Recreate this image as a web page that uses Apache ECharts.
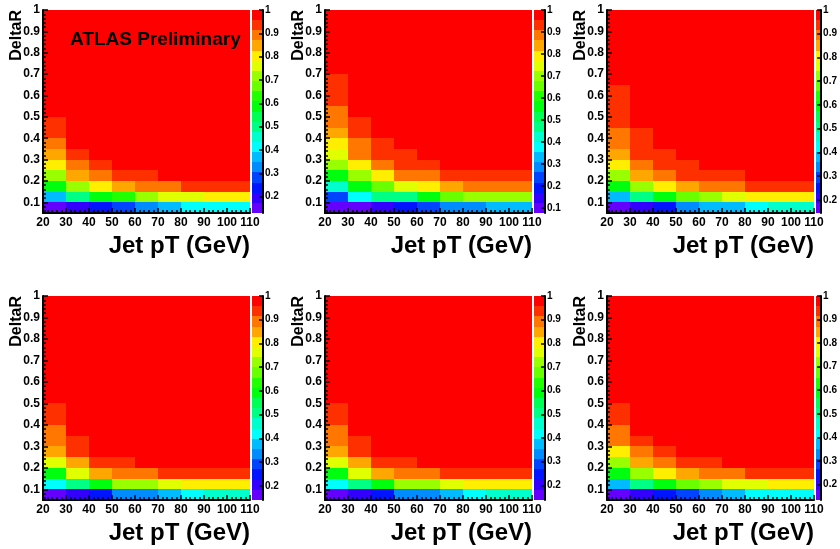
<!DOCTYPE html>
<html><head><meta charset="utf-8">
<script src="https://cdn.jsdelivr.net/npm/echarts@6/dist/echarts.min.js"></script>
<style>html,body{margin:0;padding:0;background:#fff}#c{width:840px;height:549px}</style>
</head><body><div id="c"></div>
<script>
// ---- bin edges and tick labels ----
const ptEdges = [20, 30, 40, 50, 60, 70, 80, 90, 100, 110];
const drEdges = [0.05, 0.10, 0.15, 0.20, 0.25, 0.30, 0.35, 0.40, 0.45, 0.50, 0.55, 0.60, 0.65, 0.70, 0.75, 0.80, 0.85, 0.90, 0.95, 1.00];
const xTickLabels = [20, 30, 40, 50, 60, 70, 80, 90, 100, 110];
const yTickLabels = [0.1, 0.2, 0.3, 0.4, 0.5, 0.6, 0.7, 0.8, 0.9, 1.0];
const zTickLabels = [0.1, 0.2, 0.3, 0.4, 0.5, 0.6, 0.7, 0.8, 0.9, 1.0];
const xTitle = 'Jet pT (GeV)';
const yTitle = 'DeltaR';
const stampText = 'ATLAS Preliminary';
const zMax = 1;

// ---- efficiency maps: rows from DeltaR 0.05-0.10 (first) to 0.95-1.00 (last), 9 pT bins each ----
const eff1 = [
  [0.130, 0.195, 0.239, 0.282, 0.326, 0.369, 0.405, 0.418, 0.428],
  [0.369, 0.500, 0.587, 0.630, 0.717, 0.755, 0.768, 0.800, 0.812],
  [0.587, 0.717, 0.804, 0.848, 0.885, 0.898, 0.930, 0.938, 0.942],
  [0.717, 0.848, 0.891, 0.930, 0.945, 0.965, 0.970, 0.975, 0.978],
  [0.804, 0.891, 0.935, 0.975, 0.980, 0.985, 0.985, 0.990, 0.990],
  [0.848, 0.935, 0.975, 0.985, 0.990, 0.990, 0.990, 0.990, 0.995],
  [0.891, 0.970, 0.985, 0.990, 0.990, 0.995, 0.995, 0.995, 0.995],
  [0.930, 0.980, 0.990, 0.995, 0.995, 0.995, 0.995, 0.995, 0.995],
  [0.945, 0.985, 0.990, 0.995, 0.995, 0.995, 0.995, 0.995, 0.995],
  [0.970, 0.990, 0.995, 0.995, 1, 1, 1, 1, 1],
  [0.980, 0.990, 0.995, 1, 1, 1, 1, 1, 1],
  [0.985, 0.995, 1, 1, 1, 1, 1, 1, 1],
  [0.990, 0.995, 1, 1, 1, 1, 1, 1, 1],
  [0.990, 1, 1, 1, 1, 1, 1, 1, 1],
  [0.995, 1, 1, 1, 1, 1, 1, 1, 1],
  [0.995, 1, 1, 1, 1, 1, 1, 1, 1],
  [1, 1, 1, 1, 1, 1, 1, 1, 1],
  [1, 1, 1, 1, 1, 1, 1, 1, 1],
  [1, 1, 1, 1, 1, 1, 1, 1, 1]
];
const eff2 = [
  [0.077, 0.100, 0.146, 0.192, 0.238, 0.280, 0.292, 0.328, 0.336],
  [0.238, 0.377, 0.465, 0.472, 0.562, 0.654, 0.695, 0.700, 0.705],
  [0.423, 0.562, 0.654, 0.746, 0.792, 0.839, 0.880, 0.885, 0.890],
  [0.562, 0.700, 0.792, 0.885, 0.890, 0.925, 0.931, 0.935, 0.940],
  [0.700, 0.792, 0.885, 0.931, 0.935, 0.965, 0.970, 0.970, 0.975],
  [0.746, 0.885, 0.931, 0.935, 0.965, 0.980, 0.980, 0.985, 0.985],
  [0.792, 0.890, 0.935, 0.965, 0.980, 0.985, 0.990, 0.990, 0.990],
  [0.839, 0.931, 0.965, 0.980, 0.990, 0.990, 0.995, 0.995, 0.995],
  [0.885, 0.935, 0.975, 0.985, 0.990, 0.995, 0.995, 0.995, 0.995],
  [0.890, 0.965, 0.985, 0.990, 0.995, 0.995, 1, 1, 1],
  [0.925, 0.975, 0.990, 0.995, 1, 1, 1, 1, 1],
  [0.931, 0.980, 0.990, 1, 1, 1, 1, 1, 1],
  [0.940, 0.985, 0.995, 1, 1, 1, 1, 1, 1],
  [0.965, 0.990, 1, 1, 1, 1, 1, 1, 1],
  [0.975, 0.995, 1, 1, 1, 1, 1, 1, 1],
  [0.985, 1, 1, 1, 1, 1, 1, 1, 1],
  [0.990, 1, 1, 1, 1, 1, 1, 1, 1],
  [0.995, 1, 1, 1, 1, 1, 1, 1, 1],
  [1, 1, 1, 1, 1, 1, 1, 1, 1]
];
const eff3 = [
  [0.145, 0.209, 0.252, 0.337, 0.375, 0.385, 0.423, 0.460, 0.470],
  [0.380, 0.508, 0.594, 0.679, 0.722, 0.765, 0.800, 0.807, 0.812],
  [0.594, 0.722, 0.807, 0.850, 0.890, 0.895, 0.930, 0.935, 0.940],
  [0.722, 0.850, 0.893, 0.930, 0.936, 0.940, 0.965, 0.970, 0.975],
  [0.807, 0.893, 0.936, 0.940, 0.970, 0.980, 0.985, 0.985, 0.990],
  [0.850, 0.930, 0.936, 0.970, 0.980, 0.985, 0.990, 0.990, 0.990],
  [0.890, 0.935, 0.970, 0.980, 0.990, 0.990, 0.995, 0.995, 0.995],
  [0.895, 0.940, 0.975, 0.985, 0.990, 0.995, 0.995, 0.995, 1],
  [0.930, 0.970, 0.985, 0.990, 0.995, 0.995, 1, 1, 1],
  [0.935, 0.975, 0.990, 0.995, 1, 1, 1, 1, 1],
  [0.940, 0.980, 0.990, 1, 1, 1, 1, 1, 1],
  [0.945, 0.985, 0.995, 1, 1, 1, 1, 1, 1],
  [0.965, 0.990, 1, 1, 1, 1, 1, 1, 1],
  [0.975, 0.995, 1, 1, 1, 1, 1, 1, 1],
  [0.985, 1, 1, 1, 1, 1, 1, 1, 1],
  [0.990, 1, 1, 1, 1, 1, 1, 1, 1],
  [0.995, 1, 1, 1, 1, 1, 1, 1, 1],
  [1, 1, 1, 1, 1, 1, 1, 1, 1],
  [1, 1, 1, 1, 1, 1, 1, 1, 1]
];
const eff4 = [
  [0.140, 0.205, 0.248, 0.330, 0.338, 0.377, 0.420, 0.460, 0.466],
  [0.420, 0.506, 0.592, 0.718, 0.724, 0.764, 0.800, 0.807, 0.812],
  [0.592, 0.764, 0.850, 0.890, 0.896, 0.930, 0.934, 0.938, 0.940],
  [0.764, 0.850, 0.932, 0.938, 0.965, 0.970, 0.975, 0.980, 0.980],
  [0.850, 0.936, 0.970, 0.980, 0.985, 0.985, 0.990, 0.990, 0.990],
  [0.890, 0.940, 0.975, 0.985, 0.990, 0.990, 0.995, 0.995, 0.995],
  [0.896, 0.970, 0.985, 0.990, 0.995, 0.995, 0.995, 1, 1],
  [0.932, 0.975, 0.990, 0.995, 0.995, 1, 1, 1, 1],
  [0.940, 0.980, 0.990, 0.995, 1, 1, 1, 1, 1],
  [0.965, 0.985, 0.995, 1, 1, 1, 1, 1, 1],
  [0.975, 0.990, 1, 1, 1, 1, 1, 1, 1],
  [0.980, 0.995, 1, 1, 1, 1, 1, 1, 1],
  [0.985, 1, 1, 1, 1, 1, 1, 1, 1],
  [0.990, 1, 1, 1, 1, 1, 1, 1, 1],
  [0.995, 1, 1, 1, 1, 1, 1, 1, 1],
  [1, 1, 1, 1, 1, 1, 1, 1, 1],
  [1, 1, 1, 1, 1, 1, 1, 1, 1],
  [1, 1, 1, 1, 1, 1, 1, 1, 1],
  [1, 1, 1, 1, 1, 1, 1, 1, 1]
];
const eff5 = [
  [0.138, 0.202, 0.246, 0.328, 0.340, 0.375, 0.418, 0.458, 0.464],
  [0.418, 0.504, 0.590, 0.716, 0.726, 0.762, 0.798, 0.805, 0.810],
  [0.590, 0.762, 0.848, 0.888, 0.894, 0.928, 0.932, 0.936, 0.938],
  [0.762, 0.848, 0.930, 0.936, 0.966, 0.972, 0.976, 0.978, 0.980],
  [0.848, 0.934, 0.968, 0.978, 0.984, 0.986, 0.990, 0.990, 0.990],
  [0.888, 0.938, 0.974, 0.984, 0.990, 0.992, 0.994, 0.995, 0.995],
  [0.894, 0.968, 0.984, 0.990, 0.994, 0.995, 0.996, 1, 1],
  [0.930, 0.974, 0.988, 0.994, 0.996, 1, 1, 1, 1],
  [0.938, 0.980, 0.990, 0.996, 1, 1, 1, 1, 1],
  [0.964, 0.986, 0.995, 1, 1, 1, 1, 1, 1],
  [0.974, 0.990, 1, 1, 1, 1, 1, 1, 1],
  [0.980, 0.995, 1, 1, 1, 1, 1, 1, 1],
  [0.986, 1, 1, 1, 1, 1, 1, 1, 1],
  [0.990, 1, 1, 1, 1, 1, 1, 1, 1],
  [0.995, 1, 1, 1, 1, 1, 1, 1, 1],
  [1, 1, 1, 1, 1, 1, 1, 1, 1],
  [1, 1, 1, 1, 1, 1, 1, 1, 1],
  [1, 1, 1, 1, 1, 1, 1, 1, 1],
  [1, 1, 1, 1, 1, 1, 1, 1, 1]
];
const eff6 = [
  [0.134, 0.199, 0.242, 0.285, 0.329, 0.372, 0.410, 0.418, 0.425],
  [0.372, 0.502, 0.588, 0.675, 0.718, 0.755, 0.768, 0.800, 0.810],
  [0.588, 0.718, 0.805, 0.848, 0.885, 0.895, 0.930, 0.935, 0.940],
  [0.718, 0.848, 0.891, 0.930, 0.938, 0.965, 0.970, 0.975, 0.980],
  [0.805, 0.891, 0.935, 0.970, 0.980, 0.985, 0.985, 0.990, 0.990],
  [0.885, 0.935, 0.975, 0.985, 0.990, 0.990, 0.995, 0.995, 0.995],
  [0.895, 0.970, 0.985, 0.990, 0.995, 0.995, 0.995, 1, 1],
  [0.930, 0.980, 0.990, 0.995, 0.995, 1, 1, 1, 1],
  [0.940, 0.985, 0.990, 0.995, 1, 1, 1, 1, 1],
  [0.965, 0.990, 0.995, 1, 1, 1, 1, 1, 1],
  [0.975, 0.990, 1, 1, 1, 1, 1, 1, 1],
  [0.980, 0.995, 1, 1, 1, 1, 1, 1, 1],
  [0.985, 1, 1, 1, 1, 1, 1, 1, 1],
  [0.990, 1, 1, 1, 1, 1, 1, 1, 1],
  [0.995, 1, 1, 1, 1, 1, 1, 1, 1],
  [1, 1, 1, 1, 1, 1, 1, 1, 1],
  [1, 1, 1, 1, 1, 1, 1, 1, 1],
  [1, 1, 1, 1, 1, 1, 1, 1, 1],
  [1, 1, 1, 1, 1, 1, 1, 1, 1]
];
const panelsData = [eff1, eff2, eff3, eff4, eff5, eff6];

// ---- style: ROOT "pretty" palette, 20 contour levels ----
const PALETTE = ['#6300ff', '#3300ff', '#0014ff', '#0044ff', '#008bff', '#00bbff', '#00fffc', '#00ffcc', '#00ff85', '#00ff55',
                 '#00ff0e', '#22ff00', '#69ff00', '#99ff00', '#e0ff00', '#ffee00', '#ffa700', '#ff7700', '#ff3000', '#ff0000'];
const FONT = "'Liberation Sans', Arial, Helvetica, sans-serif";
const PLOT_LEFT = [43, 325, 607];
const PLOT_TOP = [10, 296];
const PLOT_H = [203, 204];
const PLOT_W = 207;
const CB_GAP = 2, CB_W = 11;
const TITLE_X_OFF = 26;

const yMinor = [];
for (let k = 3; k <= 49; k++) { if (k % 5 !== 0) yMinor.push(+(k * 0.02).toFixed(2)); }
const fmt = v => String(+(+v).toFixed(2));

const chart = echarts.init(document.getElementById('c'), null, { renderer: 'canvas', width: 840, height: 549 });

const grid = [], xAxis = [], yAxis = [], series = [], visualMap = [], graphic = [];

const rectItem = (api, x0, x1, y0, y1, fill) => {
  const a = api.coord([x0, y0]);
  const b = api.coord([x1, y1]);
  const L = Math.round(a[0]), R = Math.round(b[0]), T = Math.round(b[1]), B = Math.round(a[1]);
  return { type: 'rect', shape: { x: L, y: T, width: R - L, height: B - T }, style: { fill: fill } };
};

panelsData.forEach((rows, p) => {
  const col = p % 3, row = Math.floor(p / 3);
  const left = PLOT_LEFT[col], top = PLOT_TOP[row], h = PLOT_H[row];
  let zMin = Infinity;
  rows.forEach(r => r.forEach(v => { if (v < zMin) zMin = v; }));
  const step = (zMax - zMin) / PALETTE.length;

  // plot grid
  const gPlot = grid.length;
  grid.push({ left: left, top: top, width: PLOT_W, height: h, containLabel: false });
  const gCb = grid.length;
  grid.push({ left: left + PLOT_W + CB_GAP, top: top, width: CB_W, height: h, containLabel: false });

  const xPlot = xAxis.length;
  xAxis.push({
    gridIndex: gPlot, type: 'value', min: ptEdges[0], max: ptEdges[ptEdges.length - 1], interval: 10, z: 10,
    axisLine: { show: true, onZero: false, lineStyle: { color: '#000', width: 2 } },
    axisTick: { show: true, inside: true, length: 5, lineStyle: { color: '#000', width: 1.5 } },
    minorTick: { show: true, splitNumber: 5, length: 3, lineStyle: { color: '#000', width: 1.5 } },
    axisLabel: { show: true, color: '#000', fontFamily: FONT, fontWeight: 'bold', fontSize: 12, margin: 4,
                 customValues: xTickLabels, formatter: v => String(v) },
    splitLine: { show: false }, minorSplitLine: { show: false }
  });
  const xCb = xAxis.length;
  xAxis.push({ gridIndex: gCb, type: 'value', min: 0, max: 1, show: false });

  const yPlot = yAxis.length;
  yAxis.push({
    gridIndex: gPlot, type: 'value', position: 'left', min: drEdges[0], max: drEdges[drEdges.length - 1], z: 10,
    axisLine: { show: true, onZero: false, lineStyle: { color: '#000', width: 2 } },
    axisTick: { show: true, inside: true, length: 5, customValues: yTickLabels, lineStyle: { color: '#000', width: 1.5 } },
    axisLabel: { show: true, customValues: yTickLabels, formatter: fmt, color: '#000', fontFamily: FONT, fontWeight: 'bold', fontSize: 12, margin: 3 },
    splitLine: { show: false }
  });
  yAxis.push({
    gridIndex: gPlot, type: 'value', position: 'left', offset: 0, min: drEdges[0], max: drEdges[drEdges.length - 1], z: 10,
    axisLine: { show: false },
    axisTick: { show: true, inside: true, length: 3, customValues: yMinor, lineStyle: { color: '#000', width: 1.5 } },
    axisLabel: { show: false }, splitLine: { show: false }
  });
  const yCb = yAxis.length;
  const zTicks = zTickLabels.filter(v => v >= zMin - 1e-9);
  yAxis.push({
    gridIndex: gCb, type: 'value', position: 'right', min: zMin, max: zMax, z: 10,
    axisLine: { show: true, onZero: false, lineStyle: { color: '#000', width: 2 } },
    axisTick: { show: true, inside: true, length: 4, customValues: zTicks, lineStyle: { color: '#000', width: 1.5 } },
    axisLabel: { show: true, customValues: zTicks, formatter: fmt, color: '#000', fontFamily: FONT, fontWeight: 'bold', fontSize: 10, margin: 2 },
    splitLine: { show: false }
  });

  // heat cells
  const cells = [];
  rows.forEach((r, iy) => r.forEach((v, ix) => {
    cells.push([ptEdges[ix], ptEdges[ix + 1], drEdges[iy], drEdges[iy + 1], v]);
  }));
  const sHeat = series.length;
  series.push({
    type: 'custom', xAxisIndex: xPlot, yAxisIndex: yPlot, z: 2, silent: true, clip: true,
    dimensions: ['x0', 'x1', 'y0', 'y1', 'eff'],
    encode: { x: [0, 1], y: [2, 3] },
    data: cells,
    renderItem: (params, api) => rectItem(api, api.value(0), api.value(1), api.value(2), api.value(3), api.visual('color'))
  });
  const pieces = PALETTE.map((c, j) => {
    const pc = { gte: zMin + j * step, color: c };
    if (j < PALETTE.length - 1) pc.lt = zMin + (j + 1) * step; else pc.lte = zMax + 1e-9;
    return pc;
  });
  visualMap.push({ type: 'piecewise', show: false, seriesIndex: sHeat, dimension: 4, pieces: pieces });

  // colour bar
  const bands = PALETTE.map((c, j) => [zMin + j * step, zMin + (j + 1) * step, j]);
  series.push({
    type: 'custom', xAxisIndex: xCb, yAxisIndex: yCb, z: 2, silent: true,
    encode: { y: [0, 1] },
    data: bands,
    renderItem: (params, api) => rectItem(api, 0, 1, api.value(0), api.value(1), PALETTE[api.value(2)])
  });

  // axis titles
  graphic.push({
    type: 'text', x: left + PLOT_W, y: top + h + 33, z: 20,
    style: { text: xTitle, fill: '#000', font: `bold 24px ${FONT}`, align: 'right', verticalAlign: 'middle' }
  });
  graphic.push({
    type: 'text', x: left - TITLE_X_OFF, y: top, rotation: Math.PI / 2, z: 20,
    style: { text: yTitle, fill: '#000', font: `bold 16px ${FONT}`, align: 'right', verticalAlign: 'middle' }
  });
  if (p === 0) {
    graphic.push({
      type: 'text', x: left + 27, y: top + 30, z: 20,
      style: { text: stampText, fill: '#000', font: `bold 19px ${FONT}`, align: 'left', verticalAlign: 'middle' }
    });
  }
});

chart.setOption({
  backgroundColor: '#fff',
  animation: false,
  grid: grid, xAxis: xAxis, yAxis: yAxis, visualMap: visualMap, series: series, graphic: graphic
});
</script>
</body></html>
